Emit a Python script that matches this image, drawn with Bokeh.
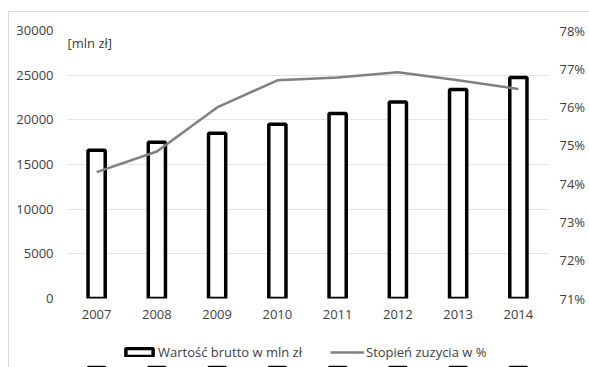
from bokeh.plotting import figure
from bokeh.layouts import column
from bokeh.models import (ColumnDataSource, Range1d, LinearAxis, FixedTicker,
                          NumeralTickFormatter, Legend, LegendItem, Label, FactorRange)
from bokeh.embed import file_html
from bokeh.resources import INLINE

years = ["2007", "2008", "2009", "2010", "2011", "2012", "2013", "2014"]
wartosc = [16600, 17500, 18500, 19500, 20700, 22000, 23400, 24750]
stopien = [74.30, 74.84, 75.99, 76.70, 76.77, 76.91, 76.70, 76.47]
left_ticks = [0, 5000, 10000, 15000, 20000, 25000, 30000]
right_ticks = [71, 72, 73, 74, 75, 76, 77, 78]
series_names = ["Wartość brutto w mln zł", "Stopień zuzycia w %"]

FONT = "Open Sans"
FS = "13px"
TXT = "#404040"
BAR_STYLE = dict(fill_color="white", line_color="black", line_width=3.5)
LINE_STYLE = dict(line_color="#808080", line_width=2.5)

src = ColumnDataSource(data=dict(
    year=years, wartosc=wartosc, stopien=[s / 100 for s in stopien]))

p = figure(x_range=FactorRange(*years), y_range=Range1d(0, 30000),
           width=580, height=310, output_backend="svg", toolbar_location=None,
           min_border_left=57, min_border_right=41, min_border_top=18,
           min_border_bottom=24)
p.outline_line_color = None
p.extra_y_ranges = {"pct": Range1d(0.71, 0.78)}

bars = p.vbar(x="year", top="wartosc", width=0.285, source=src, **BAR_STYLE)
line = p.line(x="year", y="stopien", source=src, y_range_name="pct", **LINE_STYLE)

ax = p.yaxis[0]
ax.ticker = FixedTicker(ticks=left_ticks)
ax.formatter = NumeralTickFormatter(format="0")
rax = LinearAxis(y_range_name="pct", ticker=FixedTicker(ticks=[t / 100 for t in right_ticks]),
                 formatter=NumeralTickFormatter(format="0%"))
p.add_layout(rax, "right")

for a in [p.xaxis[0], ax, rax]:
    a.axis_line_color = None
    a.major_tick_line_color = None
    a.minor_tick_line_color = None
    a.major_tick_out = 0
    a.major_tick_in = 0
    a.major_label_text_font = FONT
    a.major_label_text_font_size = FS
    a.major_label_text_color = TXT
ax.major_label_standoff = 13
rax.major_label_standoff = 11
p.xaxis[0].major_label_standoff = 11

p.xgrid.grid_line_color = None
p.ygrid.grid_line_color = "#e3e3e3"
p.ygrid.grid_line_width = 1
p.ygrid.ticker = FixedTicker(ticks=left_ticks)

unit = Label(x=0.0, y=28550, x_offset=1, text="[mln zł]",
             text_font=FONT, text_font_size=FS, text_color=TXT,
             text_baseline="middle")
p.add_layout(unit)

# legend strip (its frame is aligned with the main plot's frame by the column)
p2 = figure(width=580, height=45, output_backend="svg", toolbar_location=None,
            x_range=FactorRange(*years), y_range=Range1d(100000, 200000),
            x_axis_type=None, y_axis_type=None,
            min_border_left=0, min_border_right=0, min_border_top=0, min_border_bottom=0)
p2.outline_line_color = None
p2.xgrid.grid_line_color = None
p2.ygrid.grid_line_color = None
# legend proxies: same data, lying entirely below this strip's visible range
lb = p2.vbar(x="year", top="wartosc", width=0.285, source=src, **BAR_STYLE)
ll = p2.line(x="year", y="wartosc", source=src, **LINE_STYLE)
legend = Legend(items=[LegendItem(label=series_names[0], renderers=[lb]),
                       LegendItem(label=series_names[1], renderers=[ll])],
                orientation="horizontal", location=(56, 6),
                glyph_width=34, glyph_height=10, label_standoff=2, spacing=28,
                label_text_font=FONT, label_text_font_size=FS,
                label_text_color=TXT, border_line_color=None,
                background_fill_alpha=0, padding=0, margin=0)
p2.add_layout(legend)

layout = column(p, p2, spacing=0, margin=(11, 0, 0, 8),
                styles={"border-left": "1px solid #d9d9d9", "border-top": "1px solid #d9d9d9"})

open("out.html", "w").write(file_html(layout, INLINE))
